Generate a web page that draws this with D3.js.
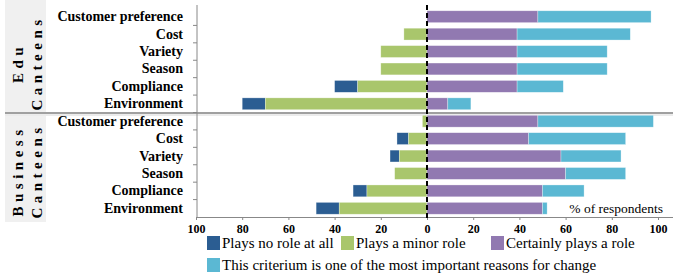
<!DOCTYPE html>
<html>
<head>
<meta charset="utf-8">
<script src="https://d3js.org/d3.v7.min.js"></script>
<style>
  body { margin: 0; background: #fff; }
  svg text { font-family: 'Liberation Serif', 'DejaVu Serif', serif !important; }
</style>
</head>
<body>
<script>
// data
var groups = ["Edu", "Business"];
var criteria = ["Customer preference", "Cost", "Variety", "Season", "Compliance", "Environment"];
var series = ["Plays no role at all", "Plays a minor role", "Certainly plays a role",
  "This criterium is one of the most important reasons for change"];
var colors = ["#2b5d92", "#a9c66c", "#9179b1", "#5bb8d3"];

// per group, per criterion (% of respondents)
var noRole = { Edu: [0, 0, 0, 0, 10, 10], Business: [0, 5, 4, 0, 6, 10] };
var minorRole = { Edu: [0, 10, 20, 20, 30, 70], Business: [2, 8, 12, 14, 26, 38] };
var certainRole = { Edu: [48, 39, 39, 39, 39, 9], Business: [48, 44, 58, 60, 50, 50] };
var mostImportant = { Edu: [49, 49, 39, 39, 20, 10], Business: [50, 42, 26, 26, 18, 2] };
var xTicks = [-100, -80, -60, -40, -20, 0, 20, 40, 60, 80, 100];

var width = 673, height = 276;
var FONT = "'Liberation Serif', 'DejaVu Serif', serif";
var svg = d3.select("body").append("svg").attr("width", width).attr("height", height)
  .attr("font-family", FONT);

var rows = [];
groups.forEach(function(g) {
  criteria.forEach(function(c, i) {
    rows.push({ key: g + "|" + c, group: g, name: c,
      vals: [noRole[g][i], minorRole[g][i], certainRole[g][i], mostImportant[g][i]] });
  });
});

var x = d3.scaleLinear().domain([-100, 100]).range([196, 658]);
var y = d3.scaleBand().domain(rows.map(function(d) { return d.key; })).range([8, 217]).paddingInner(0.32).paddingOuter(0.16);

// group label panels
var panels = [
  { l1: "Edu", l2: "Canteens", y0: 0, y1: 112, cy: 63 },
  { l1: "Business", l2: "Canteens", y0: 116, y1: 222, cy: 171 }
];
svg.selectAll("rect.panel").data(panels).enter().append("rect")
  .attr("x", 5).attr("width", 41)
  .attr("y", function(d) { return d.y0; })
  .attr("height", function(d) { return d.y1 - d.y0; })
  .attr("fill", "#f0f0f0");

panels.forEach(function(p) {
  [[p.l1, 23], [p.l2, 42]].forEach(function(t) {
    svg.append("text")
      .attr("transform", "translate(" + t[1] + "," + p.cy + ") rotate(-90)")
      .attr("text-anchor", "middle")
      .attr("font-size", 15).attr("font-weight", "bold")
      .attr("letter-spacing", 4.5)
      .text(t[0]);
  });
});

// separator
svg.append("line").attr("x1", 5).attr("x2", width).attr("y1", 113).attr("y2", 113)
  .attr("stroke", "#a0a0a0").attr("stroke-width", 2);
svg.append("line").attr("x1", 5).attr("x2", width).attr("y1", 115).attr("y2", 115)
  .attr("stroke", "#d8d8d8").attr("stroke-width", 1);

// bars
rows.forEach(function(r) {
  var v = r.vals;
  var segs = [
    { a: -(v[0] + v[1]), b: -v[1], c: colors[0] },
    { a: -v[1], b: 0, c: colors[1] },
    { a: 0, b: v[2], c: colors[2] },
    { a: v[2], b: v[2] + v[3], c: colors[3] }
  ];
  svg.selectAll(null).data(segs.filter(function(s) { return s.b > s.a; })).enter().append("rect")
    .attr("x", function(s) { return x(s.a); })
    .attr("width", function(s) { return x(s.b) - x(s.a); })
    .attr("y", y(r.key))
    .attr("height", y.bandwidth())
    .attr("fill", function(s) { return s.c; })
    .attr("stroke", "#ffffff").attr("stroke-opacity", 0.5).attr("stroke-width", 0.6);
});

// category labels
svg.selectAll("text.cat").data(rows).enter().append("text")
  .attr("x", 183)
  .attr("y", function(d) { return y(d.key) + y.bandwidth() / 2 + 4.5; })
  .attr("text-anchor", "end")
  .attr("font-size", 14).attr("font-weight", "bold")
  .text(function(d) { return d.name; });

// left axis line and ticks at row boundaries
svg.append("line").attr("x1", 197).attr("x2", 197).attr("y1", 5).attr("y2", 217)
  .attr("stroke", "#888").attr("stroke-width", 1);
var bounds = rows.slice(1).map(function(d) { return y(d.key) - y.step() * y.paddingInner() / 2; });
svg.selectAll("line.ytick").data(bounds).enter().append("line")
  .attr("x1", 193).attr("x2", 197)
  .attr("y1", function(d) { return d; }).attr("y2", function(d) { return d; })
  .attr("stroke", "#888");

// bottom axis
var xAxis = d3.axisBottom(x).tickValues(xTicks).tickSize(3).tickSizeOuter(0)
  .tickFormat(function(d) { return Math.abs(d); });
var ax = svg.append("g").attr("transform", "translate(0,217)").call(xAxis)
  .attr("font-family", FONT);
ax.select(".domain").attr("d", "M197,0.5H" + width).attr("stroke", "#888");
ax.selectAll(".tick line").attr("stroke", "#888");
ax.selectAll(".tick text").attr("font-size", 12).attr("font-weight", "bold")
  .attr("fill", "#000").attr("dy", "0.85em");

// zero dashed line
svg.append("line").attr("x1", x(0)).attr("x2", x(0)).attr("y1", 5).attr("y2", 219)
  .attr("stroke", "#000").attr("stroke-width", 2).attr("stroke-dasharray", "5,3");

svg.append("text").attr("x", 663).attr("y", 213).attr("text-anchor", "end")
  .attr("font-size", 13.5).text("% of respondents");

// legend
var legPos = [[207, 243], [341, 243], [491, 243], [207, 265]];
series.forEach(function(s, i) {
  var lg = svg.append("g").attr("transform", "translate(" + legPos[i][0] + "," + legPos[i][1] + ")");
  lg.append("rect").attr("x", 0).attr("y", -7).attr("width", 13).attr("height", 14).attr("fill", colors[i]);
  lg.append("text").attr("x", 15).attr("y", 5).attr("font-size", 15).text(s);
});
</script>
</body>
</html>
